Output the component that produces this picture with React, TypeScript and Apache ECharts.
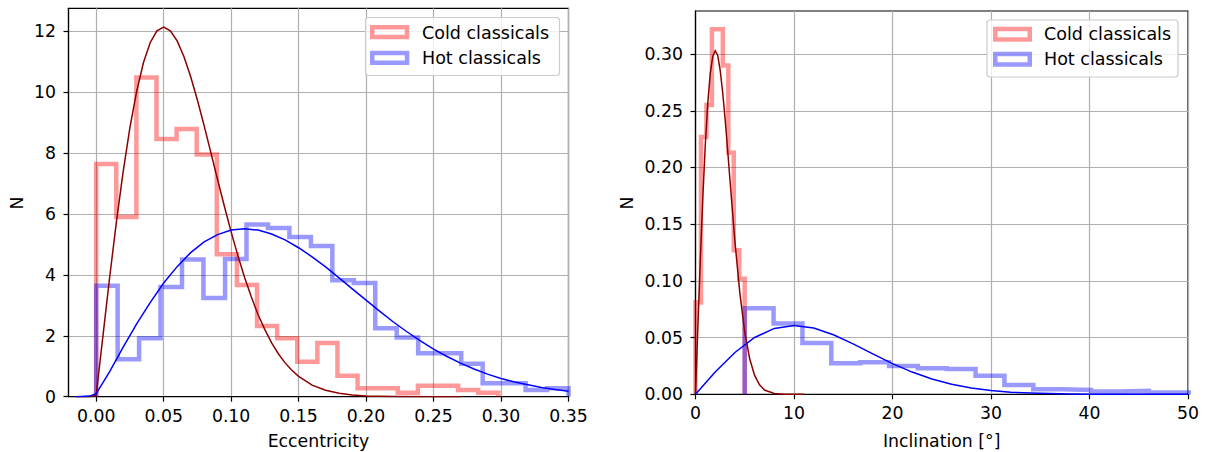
import React, { useEffect, useRef } from "react";
import * as echarts from "echarts";

// ---------- Eccentricity (left panel) ----------
const eccTicks = [0, 0.05, 0.1, 0.15, 0.2, 0.25, 0.3, 0.35];
const eccYTicks = [0, 2, 4, 6, 8, 10, 12];

const eccColdEdges = [0, 0.0149, 0.0298, 0.0447, 0.0596, 0.0745, 0.0894, 0.1043, 0.1192, 0.1341, 0.149, 0.1639, 0.1788, 0.1937, 0.2086, 0.2235, 0.2384, 0.2533, 0.2682, 0.2831, 0.298];
const eccColdCounts = [7.64, 5.9, 10.48, 8.46, 8.79, 7.95, 4.68, 3.67, 2.32, 1.92, 1.15, 1.76, 0.69, 0.28, 0.28, 0.13, 0.36, 0.36, 0.22, 0.13];

const eccHotEdges = [0, 0.0159, 0.0318, 0.0477, 0.0636, 0.0795, 0.0955, 0.1114, 0.1273, 0.1432, 0.1591, 0.175, 0.1909, 0.2068, 0.2227, 0.2386, 0.2545, 0.2705, 0.2864, 0.3023, 0.3182, 0.3341, 0.35];
const eccHotCounts = [3.64, 1.23, 1.92, 3.6, 4.5, 3.24, 4.52, 5.65, 5.54, 5.24, 4.95, 3.82, 3.73, 2.25, 1.94, 1.43, 1.43, 1.08, 0.44, 0.44, 0.22, 0.28];

const eccColdCurveX = [-0.015, -0.005, 0, 0.005, 0.01, 0.015, 0.02, 0.025, 0.03, 0.035, 0.04, 0.045, 0.05, 0.055, 0.06, 0.065, 0.07, 0.075, 0.08, 0.085, 0.09, 0.095, 0.1, 0.105, 0.11, 0.115, 0.12, 0.125, 0.13, 0.135, 0.14, 0.145, 0.15, 0.16, 0.17, 0.18, 0.19, 0.2, 0.22, 0.25, 0.27];
const eccColdCurveY = [0, 0, 0.05, 1.99, 3.92, 5.74, 7.39, 8.83, 10.02, 10.96, 11.62, 12.01, 12.13, 12.01, 11.68, 11.17, 10.51, 9.74, 8.9, 8.01, 7.12, 6.25, 5.41, 4.63, 3.91, 3.27, 2.69, 2.2, 1.77, 1.41, 1.11, 0.87, 0.67, 0.38, 0.21, 0.11, 0.056, 0.027, 0.006, 0, 0];

const eccHotCurveX = [-0.015, -0.005, 0, 0.01, 0.02, 0.03, 0.04, 0.05, 0.06, 0.07, 0.08, 0.09, 0.1, 0.11, 0.12, 0.13, 0.14, 0.15, 0.16, 0.17, 0.18, 0.19, 0.2, 0.21, 0.22, 0.23, 0.24, 0.25, 0.26, 0.27, 0.28, 0.29, 0.3, 0.31, 0.32, 0.33, 0.34, 0.35];
const eccHotCurveY = [0, 0.02, 0.1, 0.82, 1.63, 2.39, 3.09, 3.73, 4.27, 4.73, 5.08, 5.32, 5.47, 5.51, 5.47, 5.34, 5.15, 4.89, 4.59, 4.26, 3.9, 3.53, 3.17, 2.81, 2.46, 2.14, 1.84, 1.56, 1.32, 1.1, 0.91, 0.74, 0.6, 0.48, 0.39, 0.3, 0.24, 0.18];

// ---------- Inclination (right panel) ----------
const incTicks = [0, 10, 20, 30, 40, 50];
const incYTicks = [0, 0.05, 0.1, 0.15, 0.2, 0.25, 0.3];

const incColdEdges = [0, 0.555, 1.11, 1.665, 2.22, 2.775, 3.33, 3.885, 4.44, 4.995];
const incColdCounts = [0.081, 0.227, 0.255, 0.322, 0.322, 0.29, 0.213, 0.127, 0.102];

const incHotEdges = [4.995, 7.925, 10.855, 13.785, 16.715, 19.645, 22.575, 25.505, 28.435, 31.365, 34.295, 37.225, 40.155, 43.085, 46.015, 48.945, 51.875];
const incHotCounts = [0.0759, 0.0625, 0.0452, 0.0274, 0.0283, 0.025, 0.0229, 0.0222, 0.0163, 0.0083, 0.0045, 0.0039, 0.0024, 0.003, 0.0016, 0.0016];

const incColdCurveX = [0, 0.25, 0.5, 0.75, 1, 1.25, 1.5, 1.75, 2, 2.25, 2.5, 2.75, 3, 3.25, 3.5, 3.75, 4, 4.5, 5, 5.5, 6, 6.5, 7, 8, 9, 11];
const incColdCurveY = [0, 0.062, 0.121, 0.175, 0.221, 0.257, 0.283, 0.298, 0.303, 0.299, 0.286, 0.267, 0.2435, 0.217, 0.189, 0.162, 0.135, 0.0895, 0.0549, 0.0313, 0.0167, 0.0083, 0.0038, 0.0007, 0.0001, 0];

const incHotCurveX = [0, 2, 4, 6, 8, 10, 12, 14, 16, 18, 20, 22, 24, 26, 28, 30, 32, 34, 36, 38, 40, 42, 44, 46, 48, 50];
const incHotCurveY = [0, 0.0196, 0.0369, 0.0501, 0.0581, 0.0607, 0.0584, 0.0525, 0.0445, 0.0356, 0.0271, 0.0196, 0.0135, 0.0089, 0.0056, 0.0033, 0.0019, 0.0011, 0.0006, 0.0003, 0.0001, 0.0001, 0, 0, 0, 0];

const legendNames = ["Cold classicals", "Hot classicals"];
const axisNames = { eccX: "Eccentricity", incX: "Inclination [°]", y: "N" };

// ---------- styling ----------
const FONT = "DejaVu Sans";
const FS = 17.3;
const COLD_HIST = "rgba(255,0,0,0.4)";
const HOT_HIST = "rgba(0,0,255,0.4)";
const COLD_LINE = "#8b0000";
const HOT_LINE = "#0000ff";

function stepPoints(edges: number[], counts: number[]) {
  const pts: number[][] = [[edges[0], 0]];
  counts.forEach((c, i) => {
    pts.push([edges[i], c]);
    pts.push([edges[i + 1], c]);
  });
  pts.push([edges[edges.length - 1], 0]);
  return pts;
}

function zip(xs: number[], ys: number[]) {
  return xs.map((x, i) => [x, ys[i]]);
}

function valueAxis(opts: any) {
  const { gridIndex, min, max, ticks, fmt, isY } = opts;
  return {
    type: "value",
    gridIndex,
    min,
    max,
    axisLine: { show: true, onZero: false, lineStyle: { color: "#000", width: 1.2 } },
    axisTick: { show: true, inside: false, length: 5, customValues: ticks, lineStyle: { color: "#000", width: 1.2 } },
    axisLabel: {
      customValues: ticks,
      formatter: (v: number) => fmt(v),
      fontSize: FS,
      color: "#000",
      fontFamily: FONT,
      margin: isY ? 12.5 : 10.5,
    },
    splitLine: { show: true, lineStyle: { color: "#b0b0b0", width: 1.2 } },
  };
}

function textEl(text: string, x: number, y: number, rotation = 0, size = FS, align = "center") {
  return {
    type: "text",
    x,
    y,
    rotation,
    style: { text, fontSize: size, fontFamily: FONT, fill: "#000", verticalAlign: "middle", align },
    z: 101,
  };
}

function legendGraphic(box: any) {
  const { x, y, w, h, px, pw, ph, r1, r2, tx, t1, t2 } = box;
  return [
    {
      type: "rect",
      shape: { x, y, width: w, height: h, r: 3 },
      style: { fill: "rgba(255,255,255,0.8)", stroke: "#cccccc", lineWidth: 1.2 },
      z: 100,
    },
    {
      type: "rect",
      shape: { x: px, y: r1, width: pw, height: ph },
      style: { fill: "none", stroke: COLD_HIST, lineWidth: 4.5 },
      z: 101,
    },
    {
      type: "rect",
      shape: { x: px, y: r2, width: pw, height: ph },
      style: { fill: "none", stroke: HOT_HIST, lineWidth: 4.5 },
      z: 101,
    },
    textEl(legendNames[0], tx, t1, 0, 17.5, "left"),
    textEl(legendNames[1], tx, t2, 0, 17.5, "left"),
  ];
}

export default function App() {
  const ref = useRef<HTMLDivElement>(null);
  useEffect(() => {
    if (!ref.current) return;
    const chart = echarts.init(ref.current, undefined, { renderer: "svg" });
    const lineSeries = (name: string, xi: number, data: number[][], color: string, width: number) => ({
      type: "line",
      name,
      xAxisIndex: xi,
      yAxisIndex: xi,
      data,
      showSymbol: false,
      symbol: "none",
      clip: true,
      silent: true,
      lineStyle: { color, width, join: "miter", cap: "butt" },
    });
    chart.setOption({
      animation: false,
      backgroundColor: "#ffffff",
      textStyle: { fontFamily: FONT },
      grid: [
        { left: 68.5, top: 8.3, width: 500, height: 388.4, show: true, borderColor: "#000", borderWidth: 1.2, backgroundColor: "transparent" },
        { left: 695.5, top: 11, width: 492.5, height: 383.3, show: true, borderColor: "#000", borderWidth: 1.2, backgroundColor: "transparent" },
      ],
      xAxis: [
        valueAxis({ gridIndex: 0, min: -0.0205, max: 0.35, ticks: eccTicks, fmt: (v: number) => v.toFixed(2) }),
        valueAxis({ gridIndex: 1, min: 0, max: 50, ticks: incTicks, fmt: (v: number) => String(v) }),
      ],
      yAxis: [
        valueAxis({ gridIndex: 0, min: 0, max: 12.75, ticks: eccYTicks, fmt: (v: number) => String(v), isY: true }),
        valueAxis({ gridIndex: 1, min: 0, max: 0.338, ticks: incYTicks, fmt: (v: number) => v.toFixed(2), isY: true }),
      ],
      series: [
        lineSeries("Cold classicals", 0, stepPoints(eccColdEdges, eccColdCounts), COLD_HIST, 4.5),
        lineSeries("Hot classicals", 0, stepPoints(eccHotEdges, eccHotCounts), HOT_HIST, 4.5),
        lineSeries("Cold fit", 0, zip(eccColdCurveX, eccColdCurveY), COLD_LINE, 1.5),
        lineSeries("Hot fit", 0, zip(eccHotCurveX, eccHotCurveY), HOT_LINE, 1.5),
        lineSeries("Cold classicals", 1, stepPoints(incColdEdges, incColdCounts), COLD_HIST, 4.5),
        lineSeries("Hot classicals", 1, stepPoints(incHotEdges, incHotCounts), HOT_HIST, 4.5),
        lineSeries("Cold fit", 1, zip(incColdCurveX, incColdCurveY), COLD_LINE, 1.5),
        lineSeries("Hot fit", 1, zip(incHotCurveX, incHotCurveY), HOT_LINE, 1.5),
      ],
      graphic: [
        textEl(axisNames.eccX, 318.4, 440.5),
        textEl(axisNames.incX, 941.7, 440.5),
        textEl(axisNames.y, 17, 203, Math.PI / 2),
        textEl(axisNames.y, 627, 203, Math.PI / 2),
        ...legendGraphic({ x: 365.5, y: 17.5, w: 194, h: 58, px: 372.25, pw: 34.8, ph: 9.8, r1: 27.25, r2: 52.9, tx: 422, t1: 32.5, t2: 58.3 }),
        ...legendGraphic({ x: 987, y: 20, w: 191, h: 57, px: 995.25, pw: 34.5, ph: 10.5, r1: 28.95, r2: 53.95, tx: 1044, t1: 34.4, t2: 59.4 }),
      ],
    });
    return () => chart.dispose();
  }, []);
  return (
    <div
      ref={ref}
      style={{ position: "fixed", left: 0, top: 0, width: 1206, height: 452, background: "#fff" }}
    />
  );
}
